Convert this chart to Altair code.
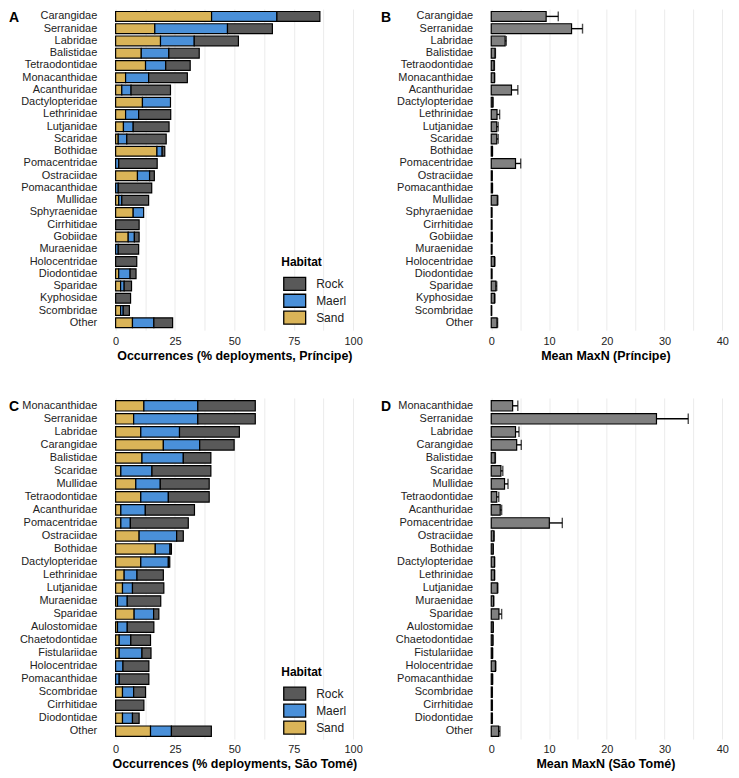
import altair as alt
import pandas as pd

# ---------------- Príncipe ----------------
fam_p = ["Carangidae", "Serranidae", "Labridae", "Balistidae", "Tetraodontidae",
         "Monacanthidae", "Acanthuridae", "Dactylopteridae", "Lethrinidae", "Lutjanidae",
         "Scaridae", "Bothidae", "Pomacentridae", "Ostraciidae", "Pomacanthidae",
         "Mullidae", "Sphyraenidae", "Cirrhitidae", "Gobiidae", "Muraenidae",
         "Holocentridae", "Diodontidae", "Sparidae", "Kyphosidae", "Scombridae", "Other"]
sand_p = [40.4, 16.5, 18.9, 10.8, 12.6, 4.2, 2.6, 11.3, 4.2, 3.3, 1.1, 17.4, 0, 9.2, 0,
          1.3, 7.4, 0, 5.3, 0, 0, 1.3, 2.1, 0, 2.1, 7.1]
maerl_p = [27.5, 30.6, 14.2, 11.6, 8.5, 9.7, 3.9, 11.8, 5.5, 4.1, 3.6, 2.2, 1.3, 5.1, 1.1,
           1.3, 4.4, 0, 2.6, 1.1, 0, 4.8, 1.5, 0, 1.1, 9.0]
rock_p = [18.1, 18.9, 18.6, 12.8, 10.3, 16.3, 16.6, 0, 13.5, 15.1, 16.6, 1.1, 16.2, 2.0, 14.1,
          11.3, 0, 9.9, 2.0, 8.6, 8.9, 2.5, 3.1, 6.3, 2.6, 7.9]
mean_p = [9.5, 13.9, 2.4, 0.67, 0.5, 0.55, 3.5, 0.28, 1.0, 0.95, 0.95, 0.2, 4.2, 0.15, 0.2,
          1.05, 0.1, 0.1, 0.15, 0.1, 0.55, 0.1, 0.8, 0.55, 0.05, 1.0]
upper_p = [11.6, 15.8, 2.6, 0.72, 0.55, 0.6, 4.6, 0.3, 1.45, 1.2, 1.2, 0.22, 5.1, 0.17, 0.22,
           1.15, 0.12, 0.12, 0.17, 0.12, 0.65, 0.12, 0.95, 0.65, 0.06, 1.1]

# ---------------- São Tomé ----------------
fam_s = ["Monacanthidae", "Serranidae", "Labridae", "Carangidae", "Balistidae",
         "Scaridae", "Mullidae", "Tetraodontidae", "Acanthuridae", "Pomacentridae",
         "Ostraciidae", "Bothidae", "Dactylopteridae", "Lethrinidae", "Lutjanidae",
         "Muraenidae", "Sparidae", "Aulostomidae", "Chaetodontidae", "Fistulariidae",
         "Holocentridae", "Pomacanthidae", "Scombridae", "Cirrhitidae", "Diodontidae", "Other"]
sand_s = [11.9, 7.6, 10.6, 20.1, 11.1, 2.2, 8.5, 10.6, 2.2, 2.2, 9.9, 16.7, 10.6, 3.6, 2.9,
          0.8, 7.8, 0.8, 1.5, 1.5, 0, 0, 2.9, 0, 2.9, 14.7]
maerl_s = [22.7, 27.0, 16.3, 15.3, 17.4, 13.1, 10.3, 11.6, 10.3, 4.0, 15.8, 6.2, 11.6, 5.4, 4.2,
           4.1, 8.2, 4.1, 4.9, 9.6, 3.1, 1.5, 4.7, 0, 4.2, 8.8]
rock_s = [24.2, 24.2, 25.2, 14.5, 11.6, 24.8, 20.6, 17.2, 20.7, 24.4, 2.8, 0.6, 0.6, 11.1, 13.2,
          14.1, 2.2, 11.2, 8.3, 3.8, 10.9, 12.5, 5.0, 11.9, 2.8, 16.8]
mean_s = [3.7, 28.6, 4.2, 4.4, 0.67, 1.67, 2.3, 0.95, 1.55, 10.05, 0.45, 0.33, 0.55, 0.55, 1.05,
          0.4, 1.33, 0.33, 0.28, 0.22, 0.72, 0.22, 0.17, 0.17, 0.17, 1.28]
upper_s = [4.6, 34.1, 4.8, 5.2, 0.72, 2.0, 2.9, 1.3, 1.8, 12.3, 0.5, 0.36, 0.6, 0.6, 1.15,
           0.44, 1.8, 0.36, 0.3, 0.24, 0.8, 0.24, 0.19, 0.19, 0.19, 1.5]

habitats = ["Rock", "Maerl", "Sand"]
hab_colors = ["#595959", "#4A90D9", "#DAB458"]

FONT = "Liberation Sans"
W_OCC, W_MAX = 262, 252
H1, H2 = 322, 342
RECT = "M-1.69,-1L1.69,-1L1.69,1L-1.69,1Z"


def y_enc(fams):
    return alt.Y(
        "Family:N", sort=fams,
        scale=alt.Scale(paddingInner=0.2, paddingOuter=0.2),
        axis=alt.Axis(title=None, ticks=False, domain=False, grid=False,
                      labelFontSize=11, labelColor="#222222", labelPadding=7,
                      minExtent=96, labelLimit=200),
    )


def x_axis(title, values, step):
    return alt.Axis(
        title=title, values=values, ticks=False, domain=False, grid=True,
        gridColor="#ebebeb", gridWidth=1,
        labelExpr=f"datum.value % {step} === 0 ? datum.label : ''",
        labelOverlap=False, labelFlush=False, labelFontSize=11,
        labelColor="#222222", labelPadding=5, titlePadding=3,
        titleFontSize=12.5, titleFontWeight="bold", titleColor="black",
    )


def letter(text, dx):
    return alt.Chart(pd.DataFrame({"lab": [text]})).mark_text(
        align="left", baseline="top", fontSize=14, fontWeight="bold",
        color="black", x=dx, y=2,
    ).encode(text="lab:N")


def occ_chart(fams, sand, maerl, rock, xtitle, lab, height, legend_y):
    rows = []
    for i, f in enumerate(fams):
        for hab, vals, o in (("Sand", sand, 0), ("Maerl", maerl, 1), ("Rock", rock, 2)):
            if vals[i] > 0:
                rows.append({"Family": f, "Habitat": hab, "value": vals[i], "ord": o})
    df = pd.DataFrame(rows)
    bars = alt.Chart(df).mark_bar(stroke="black", strokeWidth=1.2).encode(
        y=y_enc(fams),
        x=alt.X("value:Q", stack="zero",
                scale=alt.Scale(domain=[-5, 105], nice=False, zero=False),
                axis=x_axis(xtitle, [0, 12.5, 25, 37.5, 50, 62.5, 75, 87.5, 100], 25)),
        color=alt.Color("Habitat:N",
                        scale=alt.Scale(domain=habitats, range=hab_colors),
                        legend=alt.Legend(title="Habitat", orient="none",
                                          legendX=178, legendY=legend_y,
                                          symbolType=RECT, symbolSize=169,
                                          symbolOffset=6,
                                          symbolStrokeColor="black", symbolStrokeWidth=1.3,
                                          symbolOpacity=1,
                                          titleFontSize=12, titleFontWeight="bold",
                                          titleColor="black", titlePadding=7,
                                          labelFontSize=12, labelColor="#222222",
                                          labelOffset=14, rowPadding=-5.5)),
        order=alt.Order("ord:Q"),
    )
    return alt.layer(bars, letter(lab, -95)).properties(width=W_OCC, height=height)


def maxn_chart(fams, mean, upper, xtitle, lab, height):
    df = pd.DataFrame({"Family": fams, "mean": mean, "upper": upper})
    xs = alt.Scale(domain=[-2, 41.5], nice=False, zero=False)
    xa = x_axis(xtitle, [0, 5, 10, 15, 20, 25, 30, 35, 40], 10)
    base = alt.Chart(df).encode(y=y_enc(fams))
    bars = base.mark_bar(fill="#808080", stroke="black", strokeWidth=1.2).encode(
        x=alt.X("mean:Q", scale=xs, axis=xa, stack="zero"))
    rule = base.mark_rule(color="black", strokeWidth=1.4).encode(
        x=alt.X("mean:Q", scale=xs, axis=xa), x2="upper:Q")
    cap = base.mark_tick(color="black", thickness=1.4, size=height / 26.2 * 0.8).encode(
        x=alt.X("upper:Q", scale=xs, axis=xa))
    return alt.layer(bars, rule, cap, letter(lab, -99)).properties(width=W_MAX, height=height)


a = occ_chart(fam_p, sand_p, maerl_p, rock_p,
              "Occurrences (% deployments, Príncipe)", "A", H1, 249)
b = maxn_chart(fam_p, mean_p, upper_p, "Mean MaxN (Príncipe)", "B", H1)
c = occ_chart(fam_s, sand_s, maerl_s, rock_s,
              "Occurrences (% deployments, São Tomé)", "C", H2, 270)
d = maxn_chart(fam_s, mean_s, upper_s, "Mean MaxN (São Tomé)", "D", H2)

row1 = alt.hconcat(a, b, spacing=16).resolve_scale(color="independent").resolve_legend(color="independent")
row2 = alt.hconcat(c, d, spacing=16).resolve_scale(color="independent").resolve_legend(color="independent")

chart = alt.vconcat(row1, row2, spacing=36).resolve_scale(
    color="independent").resolve_legend(color="independent").properties(
    padding=0).configure(font=FONT).configure_view(stroke=None)

chart.save("out.html", embed_options={"renderer": "svg", "actions": False})
